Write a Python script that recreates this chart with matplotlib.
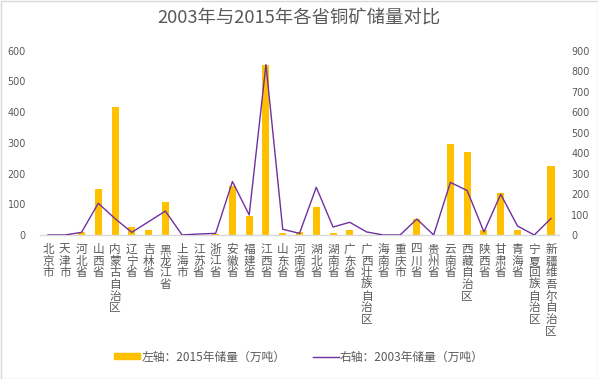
import matplotlib
matplotlib.use("Agg")
import matplotlib.pyplot as plt
from matplotlib.patches import Rectangle
from matplotlib.lines import Line2D
import numpy as np

plt.rcParams['font.family'] = ['Noto Sans CJK SC', 'DejaVu Sans']

provinces = ["北京市", "天津市", "河北省", "山西省", "内蒙古自治区", "辽宁省", "吉林省",
             "黑龙江省", "上海市", "江苏省", "浙江省", "安徽省", "福建省", "江西省",
             "山东省", "河南省", "湖北省", "湖南省", "广东省", "广西壮族自治区", "海南省",
             "重庆市", "四川省", "贵州省", "云南省", "西藏自治区", "陕西省", "甘肃省",
             "青海省", "宁夏回族自治区", "新疆维吾尔自治区"]
reserve_2015 = [0, 0, 11, 150, 417, 26, 16, 108, 0, 1, 3, 161, 63, 555,
                8, 10, 92, 7, 17, 0, 0, 0, 52, 0, 295, 271, 16, 138, 17, 0, 226]
reserve_2003 = [0, 0, 13, 155, 80, 13, 65, 117, 0, 5, 8, 261, 98, 832,
                28, 8, 233, 39, 62, 15, 0, 0, 78, 0, 257, 217, 15, 199, 44, 0, 81]
left_ticks = [0, 100, 200, 300, 400, 500, 600]
right_ticks = [0, 100, 200, 300, 400, 500, 600, 700, 800, 900]

title = "2003年与2015年各省铜矿储量对比"
legend_bar = "左轴：2015年储量（万吨）"
legend_line = "右轴：2003年储量（万吨）"

bar_color = "#FFC000"
line_color = "#7030A0"
text_gray = "#595959"
axis_gray = "#D9D9D9"

W, H = 598, 379
PT = 0.72  # points per pixel at dpi 100
fig = plt.figure(figsize=(W / 100, H / 100), dpi=100)
fig.patch.set_facecolor("white")

ax = fig.add_axes([39.6 / W, 1 - 235 / H, (559.4 - 39.6) / W, (235 - 50.7) / H])
x = np.arange(len(provinces))
ax.bar(x, reserve_2015, width=0.42, color=bar_color, zorder=2)
ax.set_xlim(-0.5, len(provinces) - 0.5)
ax.set_ylim(0, 600)
ax.set_yticks(left_ticks)
ax2 = ax.twinx()
ax2.plot(x, reserve_2003, color=line_color, lw=1.0, zorder=3)
ax2.set_ylim(0, 900)
ax2.set_yticks(right_ticks)

for a in (ax, ax2):
    for s in a.spines.values():
        s.set_visible(False)
    a.tick_params(length=0, labelsize=6.9, labelcolor=text_gray)
ax.spines['bottom'].set_visible(True)
ax.spines['bottom'].set_color(axis_gray)
ax.spines['bottom'].set_linewidth(1.0)
ax.tick_params(axis='y', pad=9.8)
ax2.tick_params(axis='y', pad=8.4)
ax.set_xticks(x)
ax.set_xticklabels([])
for yl in ax.get_yticklabels() + ax2.get_yticklabels():
    yl.set_family(['DejaVu Sans'])

char_step = 11.7  # px
for i, name in enumerate(provinces):
    for j, ch in enumerate(name):
        ax.annotate(ch, xy=(i, 0), xycoords=('data', 'axes fraction'),
                    xytext=(0, -(8 + j * char_step) * PT), textcoords='offset points',
                    ha='center', va='top', fontsize=8.4, color=text_gray,
                    annotation_clip=False)

fig.text(0.5, 1 - 18 / H, title, ha='center', va='center', fontsize=13.2, color=text_gray)

# legend
leg_y = 1 - 357 / H
handles = [Rectangle((0, 0), 1, 1, color=bar_color),
           Line2D([0], [0], color=line_color, lw=1.0)]
leg = fig.legend(handles, [legend_bar, legend_line], loc='center', bbox_to_anchor=(0.5, leg_y),
                 ncol=2, frameon=False, fontsize=8.5, handlelength=2.2, handleheight=0.45,
                 columnspacing=2.3, handletextpad=0.1, labelcolor=text_gray)

# border
fig.add_artist(Rectangle((0.5 / W, 0.5 / H), 1 - 1 / W, 1 - 1 / H, transform=fig.transFigure,
                         fill=False, edgecolor=axis_gray, lw=1.0))

fig.savefig("out.png", dpi=100, facecolor="white")
